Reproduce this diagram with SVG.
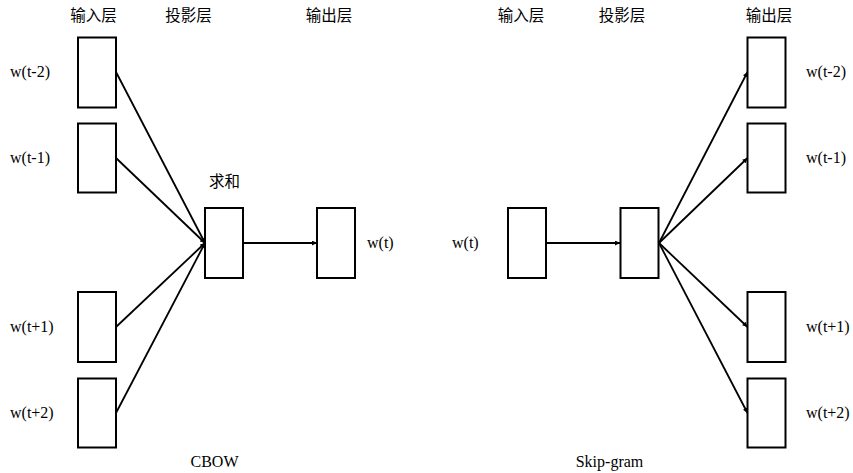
<svg xmlns="http://www.w3.org/2000/svg" width="853" height="473" viewBox="0 0 853 473">
<style>
.box{fill:#fff;stroke:#000;stroke-width:2}
.ln{fill:none;stroke:#000;stroke-width:1.8}
.lbl{font-family:"Liberation Serif","Times New Roman",serif;font-size:16px;fill:#000}
.cn{font-family:"Noto Sans CJK SC","Noto Sans",sans-serif;font-size:15.5px;fill:#000}
</style>
<defs>
<marker id="ah" viewBox="0 0 10 10" refX="10" refY="5" markerWidth="6" markerHeight="5" markerUnits="userSpaceOnUse" orient="auto">
<path d="M0,0 L10,5 L0,10 Z" fill="#000"/>
</marker>
</defs>
<rect width="853" height="473" fill="#fff"/>
<g id="headers">
<text class="cn" x="93.5" y="20.5" text-anchor="middle">输入层</text>
<text class="cn" x="188.5" y="20.5" text-anchor="middle">投影层</text>
<text class="cn" x="329" y="20.5" text-anchor="middle">输出层</text>
<text class="cn" x="521" y="20.5" text-anchor="middle">输入层</text>
<text class="cn" x="622" y="20.5" text-anchor="middle">投影层</text>
<text class="cn" x="769" y="20.5" text-anchor="middle">输出层</text>
</g>
<g id="connectors">
<line class="ln" x1="116" y1="72" x2="205" y2="243" marker-end="url(#ah)"/>
<line class="ln" x1="116" y1="158" x2="205" y2="243" marker-end="url(#ah)"/>
<line class="ln" x1="116" y1="327" x2="205" y2="243" marker-end="url(#ah)"/>
<line class="ln" x1="116" y1="413" x2="205" y2="243" marker-end="url(#ah)"/>
<line class="ln" x1="243" y1="243" x2="317" y2="243" marker-end="url(#ah)"/>
<line class="ln" x1="546" y1="243" x2="620" y2="243" marker-end="url(#ah)"/>
<line class="ln" x1="659" y1="243" x2="747.5" y2="72" marker-end="url(#ah)"/>
<line class="ln" x1="659" y1="243" x2="747.5" y2="158" marker-end="url(#ah)"/>
<line class="ln" x1="659" y1="243" x2="747.5" y2="327" marker-end="url(#ah)"/>
<line class="ln" x1="659" y1="243" x2="747.5" y2="413" marker-end="url(#ah)"/>
</g>
<g id="cbow-in-t-2"><rect class="box" x="78" y="37.5" width="38" height="70"/><text class="lbl" x="10" y="77">w(t-2)</text></g>
<g id="cbow-in-t-1"><rect class="box" x="78" y="123.5" width="38" height="69"/><text class="lbl" x="10" y="163">w(t-1)</text></g>
<g id="cbow-in-t+1"><rect class="box" x="78" y="292" width="38" height="70"/><text class="lbl" x="10" y="332">w(t+1)</text></g>
<g id="cbow-in-t+2"><rect class="box" x="78" y="378.5" width="38" height="69"/><text class="lbl" x="10" y="418">w(t+2)</text></g>
<g id="cbow-proj"><rect class="box" x="205" y="208" width="38" height="70"/><text class="cn" x="224.5" y="187" text-anchor="middle">求和</text></g>
<g id="cbow-out"><rect class="box" x="317" y="208" width="38" height="70"/><text class="lbl" x="367" y="248">w(t)</text></g>
<g id="cbow-title"><text class="lbl" x="214.5" y="467" text-anchor="middle">CBOW</text></g>
<g id="sg-in"><rect class="box" x="508" y="208" width="38" height="70"/><text class="lbl" x="452" y="248">w(t)</text></g>
<g id="sg-proj"><rect class="box" x="620.5" y="208" width="38" height="70"/></g>
<g id="sg-out-t-2"><rect class="box" x="747.5" y="37.5" width="38" height="70"/><text class="lbl" x="806" y="77">w(t-2)</text></g>
<g id="sg-out-t-1"><rect class="box" x="747.5" y="123.5" width="38" height="69"/><text class="lbl" x="806" y="163">w(t-1)</text></g>
<g id="sg-out-t+1"><rect class="box" x="747.5" y="292" width="38" height="70"/><text class="lbl" x="806" y="332">w(t+1)</text></g>
<g id="sg-out-t+2"><rect class="box" x="747.5" y="378.5" width="38" height="69"/><text class="lbl" x="806" y="418">w(t+2)</text></g>
<g id="sg-title"><text class="lbl" x="609.5" y="467" text-anchor="middle">Skip-gram</text></g>
</svg>
